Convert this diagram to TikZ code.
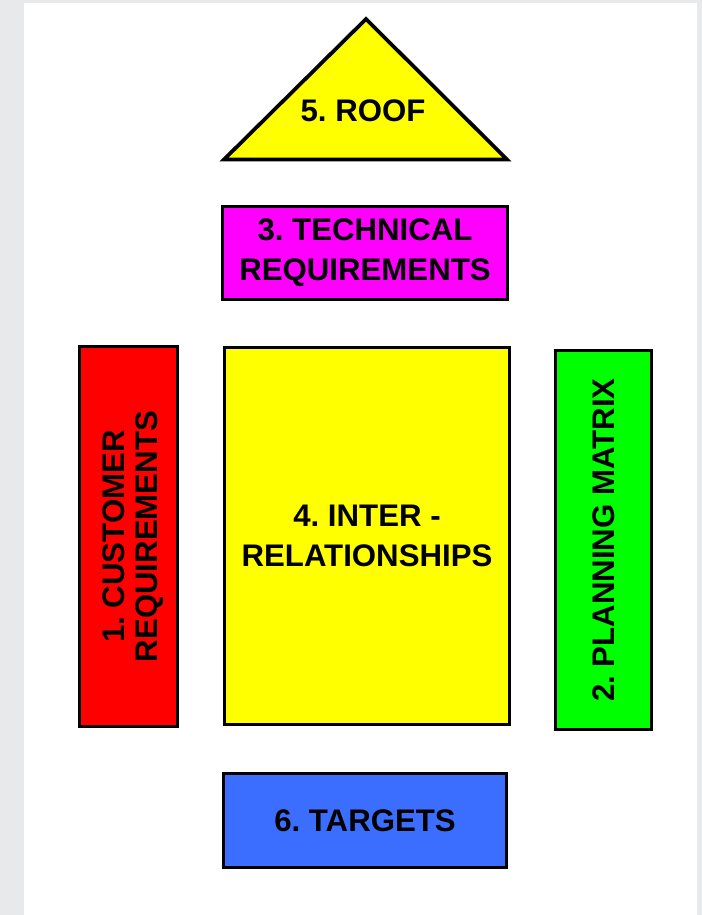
\documentclass[tikz,border=0pt]{standalone}
\usepackage{fontspec}
\setmainfont{Liberation Sans}
\frenchspacing
\begin{document}
\begin{tikzpicture}[x=0.75pt,y=-0.75pt,
  panel/.style={draw=black, line width=2.8pt, inner sep=0pt, align=center,
    font=\fontsize{23.4}{30}\selectfont\bfseries},
  caption/.style={inner sep=0pt, align=center,
    font=\fontsize{23.4}{30}\selectfont\bfseries}]
  \definecolor{pagegray}{HTML}{E8E9EB}
  \definecolor{boxyellow}{RGB}{255,255,0}
  \definecolor{boxmagenta}{RGB}{255,0,255}
  \definecolor{boxred}{RGB}{255,0,0}
  \definecolor{boxgreen}{RGB}{0,255,0}
  \definecolor{tgtblue}{RGB}{59,110,255}
  % page background
  \fill[pagegray] (0,0) rectangle (702,915);
  \fill[white] (24,3) rectangle (697,915);
  \useasboundingbox (0,0) rectangle (702,915);

  % roof
  \coordinate (apex) at (366,19);
  \coordinate (eaveL) at (224,159.5);
  \coordinate (eaveR) at (507,159.5);
  \filldraw[fill=boxyellow, draw=black, line width=2.8pt, line join=miter]
    (apex) -- (eaveL) -- (eaveR) -- cycle;
  \node[caption] (roof) at (363,111) {5. ROOF};

  % technical requirements
  \node[panel, fill=boxmagenta, minimum width=213.75pt, minimum height=69.75pt]
    (tech) at (365,253) {3. TECHNICAL\\REQUIREMENTS};

  % relationship matrix
  \node[panel, fill=boxyellow, minimum width=213.75pt, minimum height=282.75pt]
    (inter) at (367,536) {4. INTER -\\RELATIONSHIPS};

  % customer requirements (rotated label)
  \node[panel, fill=boxred, minimum width=73.5pt, minimum height=285pt]
    (cust) at (128.5,536.5) {};
  \node[caption, rotate=90, font=\fontsize{23.4}{25}\selectfont\bfseries]
    (custtext) at (133,536.5) {1. CUSTOMER\\REQUIREMENTS};

  % planning matrix (rotated)
  \node[panel, fill=boxgreen, rotate=90, minimum width=284.25pt, minimum height=72pt]
    (plan) at (603.5,540) {2. PLANNING MATRIX};

  % targets
  \node[panel, fill=tgtblue, minimum width=212.25pt, minimum height=70.5pt]
    (targets) at (365,820.5) {6. TARGETS};
\end{tikzpicture}
\end{document}
